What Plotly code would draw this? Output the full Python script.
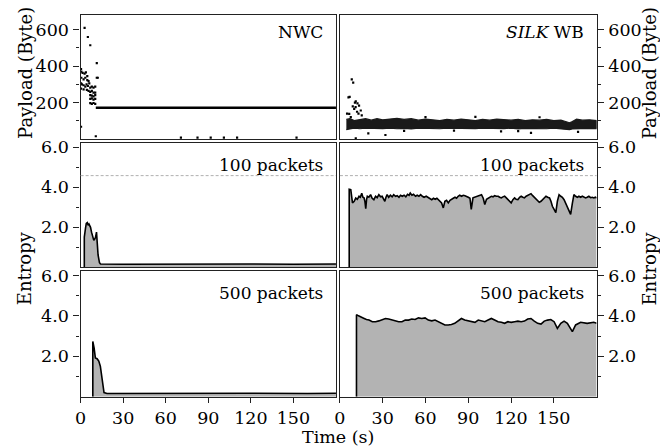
import plotly.graph_objects as go

W, H = 660, 447
FONT = "DejaVu Serif"

# ---------------- data ----------------
# NWC payload (Byte): early transient points and steady line
nwc_t = [0.3, 0.5, 1.4, 2.8, 3.7, 4.7, 0.5, 2.1, 3.3, 5.6, 4.7, 0.3, 0.95, 2.1, 3.3, 4.2, 5.1, 6.1, 6.8,
         7.9, 9.1, 10.3, 11.4, 12.1, 0.3, 2.1, 4.4, 5.6, 6.8, 7.9, 9.1, 10.3, 6.8, 7.9, 9.1, 10.3, 6.8,
         7.9, 9.1, 10.3, 6.8, 7.9, 9.1, 10.3, 2.8, 5.1, 6.8, 11.4, 0.3, 10.7,
         70.7, 82.4, 91.7, 101.0, 110.3, 152.2]
nwc_p = [384, 370, 363, 359, 366, 345, 336, 327, 336, 318, 323, 305, 300, 295, 288, 300, 291, 305, 282,
         288, 282, 288, 336, 336, 277, 273, 270, 264, 259, 264, 255, 255, 241, 238, 234, 241, 220,
         223, 216, 220, 197, 193, 198, 193, 609, 559, 514, 416, 68, 16,
         9, 9, 9, 9, 9, 9]
nwc_line_t = [10.7, 180]
nwc_line_p = [172, 172]

# SILK WB payload (Byte): dense band envelope and scattered points
silk_band_t = [4.5, 7, 10, 14, 18, 22, 26, 30, 35, 40, 45, 50, 55, 60, 65, 70, 75, 80, 85, 90, 95,
               100, 105, 110, 115, 120, 125, 130, 135, 140, 145, 150, 155, 158, 161, 163, 166, 170,
               175, 180]
silk_band_hi = [108, 112, 102, 106, 112, 104, 112, 106, 110, 114, 108, 112, 104, 110, 106, 102, 108,
                104, 110, 106, 102, 108, 104, 110, 106, 104, 108, 102, 106, 104, 108, 102, 104, 98,
                90, 96, 110, 104, 106, 102]
silk_band_lo = [52, 56, 60, 57, 60, 56, 59, 58, 60, 57, 59, 56, 60, 58, 59, 57, 60, 58, 56, 59, 58,
                60, 57, 59, 58, 60, 56, 59, 58, 59, 57, 60, 58, 54, 52, 56, 59, 57, 59, 58]
silk_pt_t = [8.3, 9.3, 6.0, 6.8, 11.1, 12.3, 13.4, 10.0, 11.0, 14.6, 15.3, 6.5, 7.6, 5.0, 9.0, 10.5,
             12.0, 13.0, 19.9, 31.9, 11.1, 113.0, 134.0, 167.0, 60.0, 95.0, 140.0, 45.0, 80.0, 125.0]
silk_pt_p = [327, 309, 229, 232, 207, 196, 184, 166, 175, 157, 130, 139, 121, 140, 180, 200,
             150, 140, 32, 23, 5, 43, 34, 40, 121, 122, 120, 45, 47, 44]

# Entropy, 100 packets window
nwc100_t = [2.6, 2.6, 3.5, 4.0, 4.7, 5.3, 5.9, 6.5, 7.0, 7.7, 8.6, 9.3, 10.0, 10.5, 11.2, 11.6, 12.3,
            13.3, 14.0, 30, 60, 90, 120, 150, 180]
nwc100_e = [0, 1.51, 1.99, 2.2, 2.24, 2.1, 2.16, 2.05, 2.0, 1.76, 1.43, 1.35, 1.42, 1.5, 1.76, 1.2,
            0.62, 0.24, 0.17, 0.16, 0.17, 0.16, 0.17, 0.16, 0.17]

silk100_t = [6.5, 6.5, 7.6, 8.8, 10, 11.1, 12.2, 13.4, 14.3, 15.3, 16.1, 16.9, 17.5, 18.1, 18.7, 19.2,
             20.3, 21.5, 22.6, 23.8, 25.0, 26.1, 27.3, 28.5, 29.6, 30.6, 31.5, 32.3, 33.1, 34.2, 35.4,
             36.6, 37.7, 39, 40.2, 41.4, 42.5, 43.7, 45, 46.2, 47.4, 48.5, 49.3, 50.5, 51.6, 53, 54.2,
             55.4, 56.6, 57.8, 59, 60.5, 62, 63.2, 64.4, 65.6, 66.8, 68, 69, 70.2, 71.3, 72.5, 73.6,
             74.8, 76, 77.2, 78.2, 79.5, 80.7, 81.8, 82.9, 84, 85.3, 86.5, 87.7, 88.9, 90, 91.2, 92.1,
             93.3, 94.5, 95.8, 97, 98.2, 99.3, 100.5, 101.6, 102.8, 104, 105, 106.2, 107.4, 108.5,
             109.7, 111, 112, 113.2, 114.3, 115.5, 116.7, 118, 119, 120.1, 121.3, 122.5, 123.6, 124.8,
             126, 127.1, 128.3, 129.4, 130.6, 131.8, 133, 134, 135.2, 136.4, 137.5, 138.7, 139.8, 141,
             142.2, 143.3, 144.5, 145.7, 147, 148, 149, 150.2, 151.4, 152.5, 153.7, 154.9, 156, 157.2,
             158.4, 159.5, 160.7, 161.8, 163, 164.1, 165.3, 166.5, 167.6, 168.8, 170, 171.1, 172.3,
             173.4, 174.6, 175.8, 177, 178.1, 179.3, 180]
silk100_e = [0, 3.9, 3.88, 3.22, 3.3, 3.46, 3.4, 3.55, 3.5, 3.7, 3.5, 3.47, 3.3, 2.93, 3.4, 3.55,
             3.5, 3.63, 3.45, 3.38, 3.55, 3.48, 3.63, 3.52, 3.55, 3.45, 3.3, 3.5, 3.63, 3.5, 3.6,
             3.52, 3.63, 3.55, 3.58, 3.5, 3.6, 3.55, 3.6, 3.52, 3.65, 3.6, 3.71, 3.6, 3.65, 3.55, 3.6,
             3.55, 3.63, 3.55, 3.5, 3.55, 3.47, 3.42, 3.38, 3.45, 3.4, 3.45, 3.38, 3.3, 3.22, 2.97, 3.3,
             3.35, 3.22, 3.35, 3.38, 3.45, 3.5, 3.45, 3.55, 3.6, 3.55, 3.6, 3.58, 3.55, 3.5, 3.45, 2.9,
             3.47, 3.5, 3.55, 3.58, 3.6, 3.63, 3.45, 3.14, 3.4, 3.45, 3.5, 3.55, 3.52, 3.58,
             3.55, 3.55, 3.5, 3.47, 3.52, 3.55, 3.47, 3.38, 3.3, 3.22, 3.38, 3.47, 3.4, 3.38,
             3.5, 3.55, 3.5, 3.47, 3.55, 3.6, 3.66, 3.68, 3.58, 3.5, 3.4, 3.3, 3.25, 3.3,
             3.38, 3.5, 3.55, 3.5, 3.47, 3.3, 3.05, 2.89, 2.73, 3.3, 3.63, 3.55, 3.5, 3.38,
             3.2, 3.0, 2.8, 2.65, 3.2, 3.63, 3.55, 3.5, 3.55, 3.5, 3.55, 3.5, 3.47,
             3.5, 3.55, 3.48, 3.5, 3.47, 3.5, 3.45]

# Entropy, 500 packets window
nwc500_t = [8.6, 8.6, 9.5, 10.4, 11.6, 12.8, 13.9, 14.6, 15.6, 16.5, 18.6, 40, 80, 120, 160, 180]
nwc500_e = [0, 2.73, 2.41, 1.92, 1.88, 1.76, 1.51, 1.2, 0.54, 0.2, 0.16, 0.17, 0.16, 0.17, 0.16, 0.17]

silk500_t = [11.6, 11.6, 13, 15, 17, 18.6, 20.4, 22.7, 25, 27.3, 29.6, 31.9, 34.2, 36.6, 38.9, 41.2,
             43.5, 45.8, 48.1, 50.4, 52.7, 55.1, 57.4, 59.7, 62, 64.4, 66.7, 69, 71.3, 73.6, 75.9,
             78.2, 80.5, 82.9, 85.2, 87.5, 89.8, 92.1, 94.7, 97, 99.3, 101.6, 103.9, 106.2, 108.5,
             110.9, 113.2, 115.5, 117.8, 120.1, 122.5, 124.8, 127.1, 129.4, 131.7, 134, 136.3, 138.7,
             141, 143.3, 145.6, 147.9, 150.2, 152.5, 154.9, 157.2, 159.5, 161.8, 163, 165.3, 168.8,
             173.4, 178, 180]
silk500_e = [0, 4.06, 4.0, 3.95, 3.87, 3.82, 3.79, 3.71, 3.71, 3.75, 3.82, 3.87, 3.84, 3.79, 3.76,
             3.71, 3.71, 3.79, 3.79, 3.84, 3.82, 3.9, 3.87, 3.9, 3.79, 3.75, 3.79, 3.71, 3.59, 3.55,
             3.55, 3.57, 3.63, 3.75, 3.87, 3.79, 3.75, 3.71, 3.68, 3.79, 3.74, 3.71, 3.79, 3.87,
             3.79, 3.71, 3.68, 3.63, 3.71, 3.68, 3.71, 3.74, 3.71, 3.74, 3.84, 3.87, 3.74, 3.63,
             3.59, 3.74, 3.79, 3.82, 3.71, 3.38, 3.63, 3.74, 3.63, 3.38, 3.22, 3.55, 3.68,
             3.63, 3.68, 3.63]

entropy_ref = 4.58
x_ticks = [0, 30, 60, 90, 120, 150]
payload_ticks = [200, 400, 600]
payload_minor = [100, 300, 500]
entropy_ticks = [2, 4, 6]
entropy_minor = [1, 3, 5]
panel_labels = ["NWC", "<i>SILK</i> WB", "100 packets", "100 packets", "500 packets", "500 packets"]

# ---------------- layout geometry ----------------
col_px = [(75.3, 333.0), (337.0, 596.0)]
row_px = [(9.0, 135.0), (139.0, 265.0), (269.0, 396.0)]

def xd(a, b):
    return [a / W, b / W]

def yd(a, b):
    return [1 - b / H, 1 - a / H]

fig = go.Figure()
GRAY = "#b3b3b3"
LINEC = "#222222"

def ax(r, c):
    i = (r - 1) * 2 + c
    return ("x" if i == 1 else f"x{i}"), ("y" if i == 1 else f"y{i}")

# row 1
xa, ya = ax(1, 1)
fig.add_trace(go.Scatter(x=nwc_line_t, y=nwc_line_p, mode="lines", line=dict(color="black", width=2.6),
                         xaxis=xa, yaxis=ya, showlegend=False))
fig.add_trace(go.Scatter(x=nwc_t, y=nwc_p, mode="markers", marker=dict(color="black", size=2.2, symbol="square"),
                         xaxis=xa, yaxis=ya, showlegend=False))
xa, ya = ax(1, 2)
fig.add_trace(go.Scatter(x=silk_band_t + silk_band_t[::-1], y=silk_band_hi + silk_band_lo[::-1], mode="lines",
                         fill="toself", fillcolor="#1a1a1a", line=dict(width=1.2, color="#1a1a1a"),
                         xaxis=xa, yaxis=ya, showlegend=False))
fig.add_trace(go.Scatter(x=silk_pt_t, y=silk_pt_p, mode="markers", marker=dict(color="black", size=2.2, symbol="square"),
                         xaxis=xa, yaxis=ya, showlegend=False))

# rows 2 & 3
for (r, c, t, e) in [(2, 1, nwc100_t, nwc100_e), (2, 2, silk100_t, silk100_e),
                     (3, 1, nwc500_t, nwc500_e), (3, 2, silk500_t, silk500_e)]:
    xa, ya = ax(r, c)
    fig.add_trace(go.Scatter(x=t, y=e, mode="lines", fill="tozeroy", fillcolor=GRAY,
                             line=dict(color="black", width=1.6), xaxis=xa, yaxis=ya, showlegend=False))

layout = dict(width=W, height=H, margin=dict(l=0, r=0, t=0, b=0), paper_bgcolor="white",
              plot_bgcolor="white", font=dict(family=FONT, size=17, color="black"), showlegend=False)

for r in (1, 2, 3):
    for c in (1, 2):
        i = (r - 1) * 2 + c
        xn = "xaxis" if i == 1 else f"xaxis{i}"
        yn = "yaxis" if i == 1 else f"yaxis{i}"
        yanchor = "y" if i == 1 else f"y{i}"
        xanchor = "x" if i == 1 else f"x{i}"
        bottom = (r == 3)
        layout[xn] = dict(domain=xd(*col_px[c - 1]), anchor=yanchor, range=[0, 180],
                          showline=True, mirror=True, linecolor=LINEC, linewidth=1.4,
                          showgrid=False, zeroline=False,
                          tickvals=x_ticks, ticks="outside" if bottom else "", ticklen=5,
                          tickcolor=LINEC, showticklabels=bottom,
                          tickfont=dict(family=FONT, size=17.5))
        if r == 1:
            yr, tv, mv = [0, 680], payload_ticks, payload_minor
        else:
            yr, tv, mv = [0, 6.2], entropy_ticks, entropy_minor
        layout[yn] = dict(domain=yd(*row_px[r - 1]), anchor=xanchor, range=yr,
                          side="left" if c == 1 else "right",
                          showline=True, mirror=True, linecolor=LINEC, linewidth=1.4,
                          showgrid=False, zeroline=False,
                          tickvals=tv, ticktext=[f"{v:.1f}" if r > 1 else str(v) for v in tv],
                          ticks="outside", ticklen=6, tickcolor=LINEC,
                          minor=dict(tickvals=mv, ticks="outside", ticklen=3, tickcolor=LINEC),
                          tickfont=dict(family=FONT, size=17.5), ticklabelstandoff=1)

shapes = []
for c in (1, 2):
    i = 2 + c
    shapes.append(dict(type="line", xref=f"x{i} domain", yref=f"y{i}", x0=0, x1=1, y0=entropy_ref,
                       y1=entropy_ref, line=dict(color="#b0b0b0", width=1, dash="3px,2px")))
layout["shapes"] = shapes

ann = []
label_y = [26, 161, 291]
k = 0
for r in (1, 2, 3):
    for c in (1, 2):
        ann.append(dict(text=panel_labels[k], x=(col_px[c - 1][1] - 11) / W, y=1 - label_y[r - 1] / H,
                        xref="paper", yref="paper", xanchor="right", yanchor="middle", showarrow=False,
                        font=dict(family=FONT, size=17)))
        k += 1
for (xx, yy, txt) in [(19, 68, "Payload (Byte)"), (19, 266, "Entropy"),
                      (649, 68, "Payload (Byte)"), (649, 266, "Entropy")]:
    ann.append(dict(text=txt, x=xx / W, y=1 - yy / H, xref="paper", yref="paper", textangle=-90,
                    xanchor="center", yanchor="middle", showarrow=False, font=dict(family=FONT, size=18)))
ann.append(dict(text="Time (s)", x=335 / W, y=1 - 437 / H, xref="paper", yref="paper", xanchor="center",
                yanchor="middle", showarrow=False, font=dict(family=FONT, size=17.5)))
layout["annotations"] = ann

fig.update_layout(**layout)
fig.write_html("out.html")
